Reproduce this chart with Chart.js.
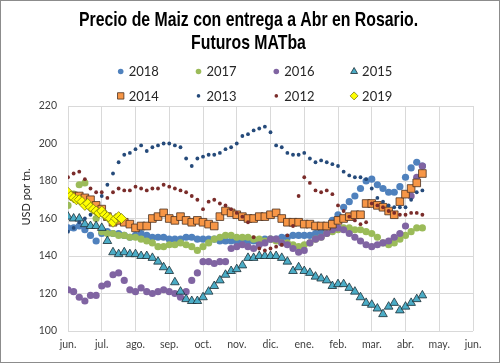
<!DOCTYPE html>
<html>
<head>
<meta charset="utf-8">
<script src="https://cdn.jsdelivr.net/npm/chart.js@4.4.1/dist/chart.umd.min.js"></script>
<style>
    html, body { margin: 0; padding: 0; background: #fff; }
    #wrap { width: 500px; height: 363px; box-sizing: border-box; border: 1px solid #8c8c8c; background: #fff; }
    canvas { display: block; }
</style>
</head>
<body>
<div id="wrap"><canvas id="myChart" width="498" height="361"></canvas></div>
<script>
// eje x: meses desde el 1 de junio
const months = ['jun.', 'jul.', 'ago.', 'sep.', 'oct.', 'nov.', 'dic.', 'ene.', 'feb.', 'mar.', 'abr.', 'may.', 'jun.'];
const yMin = 100, yMax = 220, yStep = 20;
const titleLines = ['Precio de Maiz con entrega a Abr en Rosario.', 'Futuros MATba'];

const seriesNames = ['2018', '2017', '2016', '2015', '2014', '2013', '2012', '2019'];
// mes de la primera lectura y separacion entre lecturas (en meses)
const seriesStart = [0, 0, 0, 0, 1 / 6, 0, 0, 0];
const seriesStep = [1 / 6, 1 / 6, 1 / 6, 1 / 6, 1 / 6, 1 / 6, 1 / 6, 1 / 12];

const y2018 = [155, 155, 156, 154, 151, 148, 152, 153, 152, 152, 151, 150, 151, 152, 151, 150, 150, 150,
    149, 149, 149, 150, 150, 149, 149, 149, 149, 148, 148, 148, 148, 148, 148, 148, 148, 149,
    149, 149, 150, 150, 151, 151, 151, 151, 152, 153, 156, 159, 162, 166, 169, 172, 176, 180,
    181, 178, 176, 174, 174, 177, 182, 187, 190, 188];
const y2017 = [167, 173, 178, 179, 170, 160, 153, 152, 152, 151, 151, 150, 150, 149, 148, 147, 145, 145,
    146, 146, 147, 146, 145, 143, 145, 147, 149, 150, 151, 151, 150, 150, 150, 149, 149, 148,
    149, 148, 147, 147, 146, 145, 146, 147, 149, 150, 152, 153, 154, 155, 155, 154, 154, 153,
    152, 150, 147, 146, 147, 149, 151, 153, 155, 155];
const y2016 = [122, 121, 118, 116, 119, 119, 124, 125, 130, 131, 127, 122, 121, 123, 121, 120, 121, 122,
    121, 120, 118, 121, 127, 131, 137, 137, 136, 137, 137, 144, 145, 146, 145, 144, 146, 147,
    149, 149, 147, 146, 144, 142, 143, 147, 149, 150, 152, 154, 155, 154, 152, 150, 148, 146,
    145, 146, 147, 148, 150, 152, 156, 172, 182, 188];
const y2015 = [161, 160, 160, 157, 156, 156, 155, 148, 142, 141, 142, 141, 141, 140, 140, 139, 137, 134,
    132, 126, 121, 117, 116, 116, 118, 121, 124, 127, 130, 132, 133, 135, 139, 139, 140, 140,
    140, 140, 139, 137, 132, 134, 132, 131, 129, 128, 127, 124, 125, 125, 123, 121, 118, 115,
    114, 112, 109, 113, 115, 111, 113, 115, 117, 119];
const y2014 = [172, 172, 171, 170, 167, 165, 161, 158, 159, 158, 157, 155, 156, 156, 160, 161, 163,
    160, 159, 161, 159, 158, 159, 158, 157, 156, 161, 164, 163, 162, 161, 160, 160, 161, 161,
    162, 163, 160, 158, 158, 158, 157, 157, 156, 156, 156, 157, 159, 160, 161, 162, 162, 168,
    168, 167, 166, 164, 162, 169, 173, 176, 179, 184];
const y2013 = [153, 155, 158, 160, 162, 164, 172, 178, 184, 190, 194, 195, 197, 199, 196, 198, 199, 200,
    200, 199, 198, 192, 188, 192, 193, 194, 194, 195, 197, 198, 200, 204, 205, 207, 208, 209,
    206, 199, 198, 195, 194, 194, 195, 192, 190, 191, 190, 189, 188, 185, 183, 182, 182, 181,
    176, 171, 169, 167, 166, 166, 166, 170, 174, 175];
const y2012 = [182, 184, 185, 181, 176, 174, 174, 171, 174, 176, 175, 175, 177, 176, 175, 176, 176, 178,
    177, 176, 175, 174, 172, 170, 165, 169, 170, 168, 167, 165, 163, 161, 158, 150, 144, 143,
    144, 145, 146, 151, 156, 172, 182, 179, 175, 174, 175, 173, 167, 164, 161, 159, 157, 158,
    168, 167, 166, 164, 163, 162, 162, 163, 163, 162];
const y2019 = [174, 172, 171, 170, 170, 169, 167, 168, 166, 165, 164, 163, 164, 162, 161, 160, 158, 160, 161, 160];

const seriesValues = [y2018, y2017, y2016, y2015, y2014, y2013, y2012, y2019];

const styles = [
    { pointStyle: 'circle', radius: 3.6, bg: '#4F81BD', border: '#4F81BD', bw: 0, legendRadius: 2.8 },
    { pointStyle: 'circle', radius: 3.6, bg: '#9BBB59', border: '#9BBB59', bw: 0, legendRadius: 2.8 },
    { pointStyle: 'circle', radius: 3.6, bg: '#8064A2', border: '#8064A2', bw: 0, legendRadius: 2.8 },
    { pointStyle: 'triangle', radius: 5, bg: '#4BACC6', border: '#1c2e36', bw: 0.8, legendRadius: 4 },
    { pointStyle: 'rect', radius: 5.4, bg: '#F79646', border: '#4a3020', bw: 0.8, legendRadius: 4.5 },
    { pointStyle: 'circle', radius: 1.9, bg: '#254A7A', border: '#254A7A', bw: 0, legendRadius: 1.8 },
    { pointStyle: 'circle', radius: 1.9, bg: '#7A2C2A', border: '#7A2C2A', bw: 0, legendRadius: 1.8 },
    { pointStyle: 'rectRot', radius: 5, bg: '#FFFF00', border: '#7f7f10', bw: 0.8, legendRadius: 4 }
];

const datasets = seriesNames.map((name, i) => ({
    label: name,
    data: seriesValues[i].map((v, j) => ({ x: seriesStart[i] + j * seriesStep[i], y: v })),
    showLine: false,
    pointStyle: styles[i].pointStyle,
    pointRadius: styles[i].radius,
    pointHoverRadius: styles[i].radius,
    backgroundColor: styles[i].bg,
    borderColor: styles[i].border,
    borderWidth: styles[i].bw,
    order: seriesNames.length - i // las series mas nuevas quedan arriba
}));

// titulo angosto, leyenda en dos filas de cuatro y titulo del eje y
const extras = {
    id: 'extras',
    afterDraw(chart) {
        const ctx = chart.ctx;
        ctx.save();
        ctx.fillStyle = '#000';
        ctx.font = 'bold 19.3px "Liberation Sans", Arial, sans-serif';
        ctx.textAlign = 'center';
        ctx.textBaseline = 'alphabetic';
        titleLines.forEach((line, k) => {
            ctx.save();
            ctx.translate(247.5, 24.5 + k * 23.5);
            ctx.scale(0.82, 1);
            ctx.fillText(line, 0, 0);
            ctx.restore();
        });

        seriesNames.forEach((name, i) => {
            const s = styles[i];
            const x = 119.7 + (i % 4) * 77.8;
            const y = 70.5 + Math.floor(i / 4) * 24.4;
            ctx.fillStyle = s.bg;
            ctx.strokeStyle = s.border;
            ctx.lineWidth = s.bw;
            Chart.helpers.drawPoint(ctx, { pointStyle: s.pointStyle, radius: s.legendRadius, rotation: 0, borderWidth: s.bw }, x, y);
            ctx.fillStyle = '#262626';
            ctx.font = '13px Lato';
            ctx.textAlign = 'left';
            ctx.textBaseline = 'middle';
            ctx.fillText(name, x + 8, y + 0.5);
        });

        ctx.translate(25, 196);
        ctx.rotate(-Math.PI / 2);
        ctx.font = '11px Lato';
        ctx.textAlign = 'center';
        ctx.textBaseline = 'middle';
        ctx.fillStyle = '#262626';
        ctx.fillText('USD por tn.', 0, 0);
        ctx.restore();
    }
};

const grafica = new Chart(document.getElementById('myChart').getContext('2d'), {
    type: 'scatter',
    data: { datasets: datasets },
    plugins: [extras],
    options: {
        responsive: false,
        animation: false,
        events: [],
        layout: { padding: { left: 0, right: 26, top: 105, bottom: 0 } },
        plugins: {
            legend: { display: false },
            tooltip: { enabled: false },
            title: { display: false }
        },
        scales: {
            x: {
                type: 'linear',
                min: 0,
                max: months.length - 1,
                afterFit: (scale) => { scale.height = 31; },
                grid: { color: '#d9d9d9', drawTicks: false },
                border: { display: false },
                ticks: {
                    stepSize: 1,
                    autoSkip: false,
                    maxRotation: 0,
                    padding: 7,
                    color: '#404040',
                    font: { family: 'Lato', size: 10.5 },
                    callback: (v) => months[v]
                }
            },
            y: {
                min: yMin,
                max: yMax,
                afterFit: (scale) => { scale.width = 67; },
                grid: { color: '#d9d9d9', drawTicks: false },
                border: { display: false },
                ticks: {
                    stepSize: yStep,
                    autoSkip: false,
                    padding: 11,
                    color: '#404040',
                    font: { family: 'Lato', size: 10.5 }
                }
            }
        }
    }
});
</script>
</body>
</html>
